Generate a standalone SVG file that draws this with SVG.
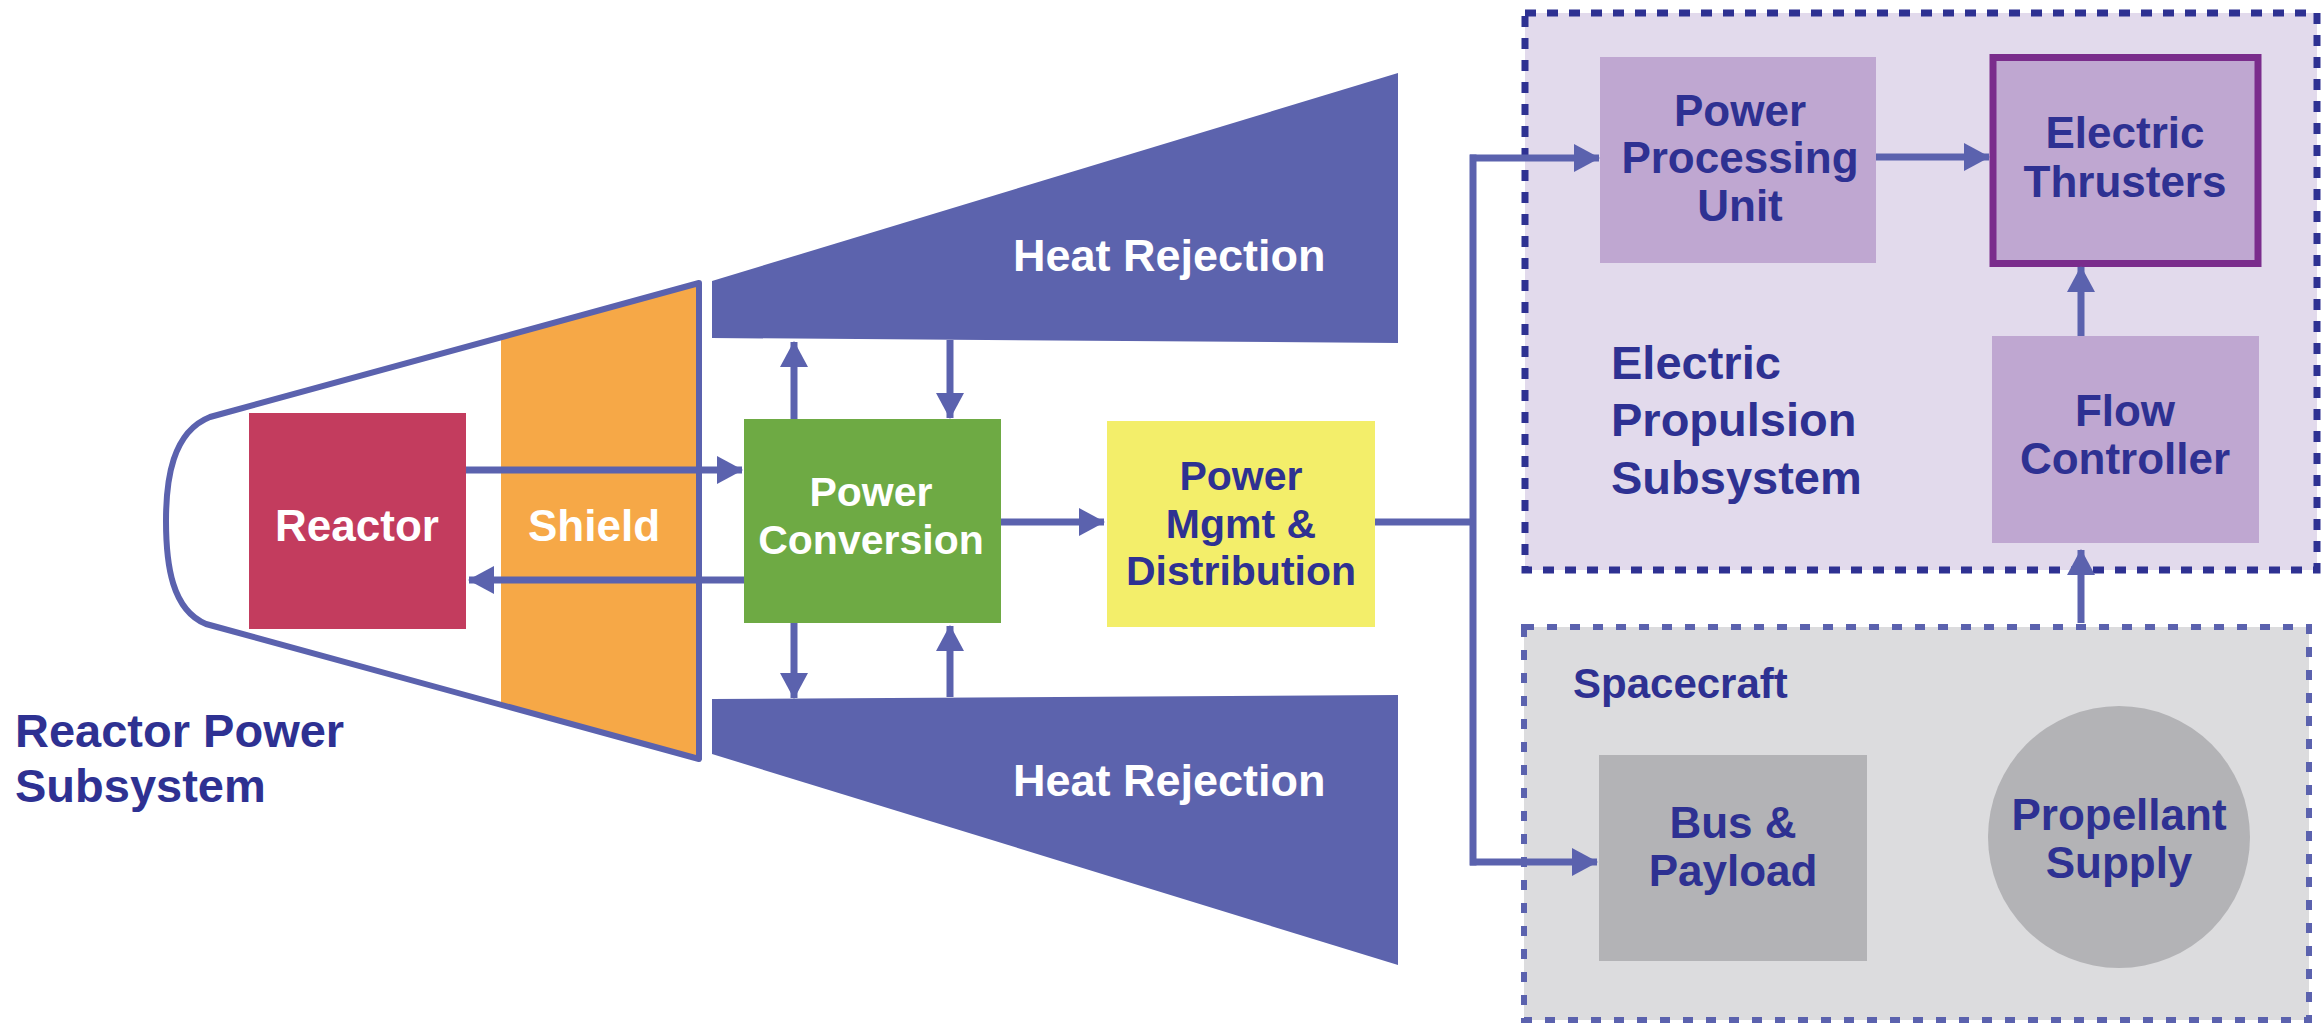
<svg xmlns="http://www.w3.org/2000/svg" width="2323" height="1024" viewBox="0 0 2323 1024">
<defs>
<style>
text { font-family: "Liberation Sans", Arial, Helvetica, sans-serif; font-weight: bold; }
.w { fill: #FFFFFF; }
.n { fill: #2E3192; }
.c { text-anchor: middle; }
.lbl { font-size: 44px; }
.conn { fill: none; stroke: #5B62AE; stroke-width: 7; }
.heat { fill: #5C63AD; }
.ep { fill: #BFA7D1; }
</style>
<marker id="ah" markerUnits="userSpaceOnUse" markerWidth="26" markerHeight="28" refX="25" refY="14" orient="auto">
<path d="M0,0 L26,14 L0,28 z" fill="#5B62AE"/>
</marker>
</defs>
<rect width="2323" height="1024" fill="#FFFFFF"/>

<g id="heat-rejection-top">
<polygon class="heat" points="712,281 1398,73 1398,343 712,338"/>
<text class="w" x="1013" y="271" font-size="45">Heat Rejection</text>
</g>
<g id="heat-rejection-bottom">
<polygon class="heat" points="712,699 1398,695 1398,965 712,754"/>
<text class="w" x="1013" y="796" font-size="45">Heat Rejection</text>
</g>

<g id="reactor-power-subsystem">
<polygon id="shield-shape" points="501,337 699,283 699,759 501,705" fill="#F6A847"/>
<path d="M699,283 L210,417 C172,432 166,480 166,521 C166,565 172,610 206,624 L699,759 Z" fill="none" stroke="#5B62AE" stroke-width="6" stroke-linejoin="round"/>
<text class="n" x="15" y="747" font-size="47">Reactor Power</text>
<text class="n" x="15" y="802" font-size="47">Subsystem</text>
</g>
<g id="shield">
<text class="w c lbl" x="594" y="541">Shield</text>
</g>
<g id="reactor">
<rect x="249" y="413" width="217" height="216" fill="#C33C5E"/>
<text class="w c lbl" x="357" y="541">Reactor</text>
</g>
<g id="power-conversion">
<rect x="744" y="419" width="257" height="204" fill="#6EAA44"/>
<text class="w c" x="871" y="506" font-size="41">Power</text>
<text class="w c" x="871" y="554" font-size="41">Conversion</text>
</g>
<g id="power-mgmt-distribution">
<rect x="1107" y="421" width="268" height="206" fill="#F3EE6A"/>
<text class="n c" x="1241" y="490" font-size="41">Power</text>
<text class="n c" x="1241" y="538" font-size="41">Mgmt &amp;</text>
<text class="n c" x="1241" y="585" font-size="41">Distribution</text>
</g>

<g id="electric-propulsion-subsystem">
<rect x="1525" y="13" width="792" height="557" fill="#E2DAEC" stroke="#2E3192" stroke-width="7" stroke-dasharray="11 11"/>
<text class="n" x="1611" y="379" font-size="47">Electric</text>
<text class="n" x="1611" y="436" font-size="47">Propulsion</text>
<text class="n" x="1611" y="494" font-size="47">Subsystem</text>
</g>
<g id="power-processing-unit">
<rect class="ep" x="1600" y="57" width="276" height="206"/>
<text class="n c lbl" x="1740" y="126">Power</text>
<text class="n c lbl" x="1740" y="173">Processing</text>
<text class="n c lbl" x="1740" y="221">Unit</text>
</g>
<g id="electric-thrusters">
<rect class="ep" x="1993" y="57.5" width="265" height="206" stroke="#7A2C8C" stroke-width="7"/>
<text class="n c lbl" x="2125" y="148">Electric</text>
<text class="n c lbl" x="2125" y="197">Thrusters</text>
</g>
<g id="flow-controller">
<rect class="ep" x="1992" y="336" width="267" height="207"/>
<text class="n c lbl" x="2125" y="426">Flow</text>
<text class="n c lbl" x="2125" y="474">Controller</text>
</g>

<g id="spacecraft">
<rect x="1524" y="627" width="785" height="393" fill="#DCDCDE" stroke="#5B62AE" stroke-width="6" stroke-dasharray="10 13"/>
<text class="n" x="1573" y="698" font-size="42">Spacecraft</text>
</g>
<g id="bus-payload">
<rect x="1599" y="755" width="268" height="206" fill="#B3B3B6"/>
<text class="n c lbl" x="1733" y="838">Bus &amp;</text>
<text class="n c lbl" x="1733" y="886">Payload</text>
</g>
<g id="propellant-supply">
<circle cx="2119" cy="837" r="131" fill="#B3B3B6"/>
<text class="n c lbl" x="2119" y="830">Propellant</text>
<text class="n c lbl" x="2119" y="878">Supply</text>
</g>

<g id="connectors">
<line class="conn" x1="466" y1="470" x2="742" y2="470" marker-end="url(#ah)"/>
<line class="conn" x1="744" y1="580" x2="469" y2="580" marker-end="url(#ah)"/>
<line class="conn" x1="794" y1="419" x2="794" y2="342" marker-end="url(#ah)"/>
<line class="conn" x1="950" y1="340" x2="950" y2="418" marker-end="url(#ah)"/>
<line class="conn" x1="794" y1="623" x2="794" y2="698" marker-end="url(#ah)"/>
<line class="conn" x1="950" y1="697" x2="950" y2="626" marker-end="url(#ah)"/>
<line class="conn" x1="1001" y1="522" x2="1104" y2="522" marker-end="url(#ah)"/>
<path class="conn" d="M1375,522 H1473"/>
<path class="conn" d="M1473,154.5 V865.5"/>
<line class="conn" x1="1470" y1="158" x2="1599" y2="158" marker-end="url(#ah)"/>
<line class="conn" x1="1470" y1="862" x2="1597" y2="862" marker-end="url(#ah)"/>
<line class="conn" x1="1876" y1="157" x2="1989" y2="157" marker-end="url(#ah)"/>
<line class="conn" x1="2081" y1="336" x2="2081" y2="267" marker-end="url(#ah)"/>
<line class="conn" x1="2081" y1="623" x2="2081" y2="550" marker-end="url(#ah)"/>
</g>
</svg>
